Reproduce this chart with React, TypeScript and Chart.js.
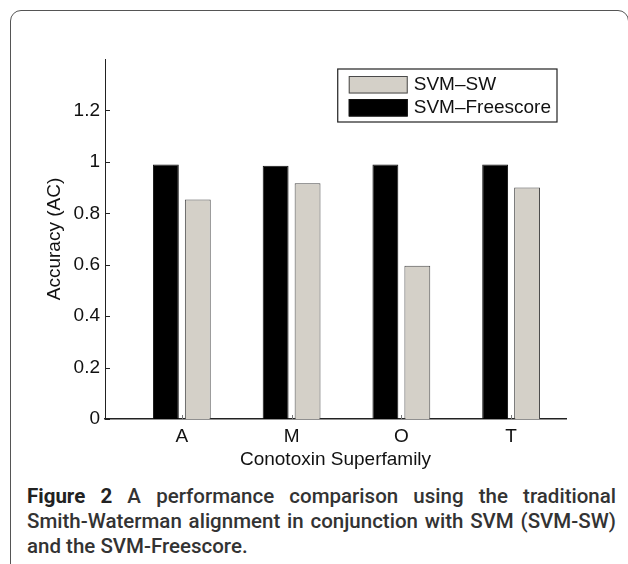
import React, { useEffect, useRef } from "react";
import { Chart, registerables } from "chart.js";

Chart.register(...registerables);

// ---- data ----
const categories = ["A", "M", "O", "T"];
const categoryPositions = [1, 2, 3, 4];
const svmFreescore = [0.99, 0.985, 0.99, 0.99];
const svmSW = [0.854, 0.917, 0.596, 0.9];
const yTickValues = [0, 0.2, 0.4, 0.6, 0.8, 1, 1.2];
const yTickLabels = ["0", "0.2", "0.4", "0.6", "0.8", "1", "1.2"];
const seriesNames = ["SVM\u2013Freescore", "SVM\u2013SW"];
const legendOrder = [1, 0];
const xTitle = "Conotoxin Superfamily";
const yTitle = "Accuracy (AC)";
const captionLines = [
  ["Figure 2", " A performance comparison using the traditional"],
  ["", "Smith-Waterman alignment in conjunction with SVM (SVM-SW)"],
  ["", "and the SVM-Freescore."],
];

const FONT = "'Liberation Sans', Arial, Helvetica, sans-serif";
const FS = 19;

const innerTicks = {
  id: "innerTicks",
  afterDraw(chart: any) {
    const { ctx, chartArea } = chart;
    const y = chart.scales.y;
    const x = chart.scales.x;
    ctx.save();
    ctx.strokeStyle = "#222";
    ctx.lineWidth = 1;
    y.ticks.forEach((t: any) => {
      const py = Math.round(y.getPixelForValue(t.value)) + 0.5;
      ctx.beginPath();
      ctx.moveTo(chartArea.left, py);
      ctx.lineTo(chartArea.left + 5, py);
      ctx.stroke();
    });
    ctx.strokeStyle = "#777";
    x.ticks.forEach((t: any) => {
      const px = Math.round(x.getPixelForValue(t.value)) + 0.5;
      ctx.beginPath();
      ctx.moveTo(px, chartArea.bottom);
      ctx.lineTo(px, chartArea.bottom - 4);
      ctx.stroke();
    });
    ctx.restore();
  },
};

const boxLegend = {
  id: "boxLegend",
  afterDraw(chart: any) {
    const { ctx, chartArea } = chart;
    ctx.save();
    ctx.font = `${FS}px ${FONT}`;
    const widths = legendOrder.map((i) => ctx.measureText(chart.data.datasets[i].label).width);
    const textW = Math.max(...widths);
    const swW = 59;
    const padL = 11;
    const gap = 6;
    const padR = 6;
    const boxW = padL + swW + gap + textW + padR;
    const boxH = 53;
    const right = chartArea.right - 9;
    const left = right - boxW;
    const top = chartArea.top + 10;
    ctx.fillStyle = "#fff";
    ctx.fillRect(left, top, boxW, boxH);
    ctx.strokeStyle = "#222";
    ctx.lineWidth = 1.2;
    ctx.strokeRect(left, top, boxW, boxH);
    legendOrder.forEach((di, row) => {
      const ds = chart.data.datasets[di];
      const sy = top + 7 + row * 23;
      const sh = 17.5;
      ctx.fillStyle = ds.backgroundColor;
      ctx.fillRect(left + padL, sy, swW, sh);
      ctx.strokeStyle = ds.borderColor;
      ctx.lineWidth = 1;
      ctx.strokeRect(left + padL + 0.5, sy + 0.5, swW - 1, sh - 1);
      ctx.fillStyle = "#111";
      ctx.textBaseline = "middle";
      ctx.textAlign = "left";
      ctx.fillText(ds.label, left + padL + swW + gap, sy + sh / 2 + 0.5);
    });
    ctx.restore();
  },
};

export default function App() {
  const canvasRef = useRef<HTMLCanvasElement | null>(null);

  useEffect(() => {
    if (!canvasRef.current) return;
    Chart.defaults.font.family = FONT;
    Chart.defaults.font.size = FS;
    Chart.defaults.color = "#111";
    const chart = new Chart(canvasRef.current, {
      type: "bar",
      data: {
        datasets: [
          {
            label: seriesNames[0],
            data: categoryPositions.map((x, i) => ({ x, y: svmFreescore[i] })),
            backgroundColor: "#000000",
            borderColor: "#111111",
            borderWidth: 1,
          },
          {
            label: seriesNames[1],
            data: categoryPositions.map((x, i) => ({ x, y: svmSW[i] })),
            backgroundColor: "#d4d0c8",
            borderColor: "#4a4a4a",
            borderWidth: 1,
          },
        ],
      },
      options: {
        animation: false,
        responsive: false,
        devicePixelRatio: 1,
        categoryPercentage: 0.582,
        barPercentage: 0.81,
        layout: { padding: { top: 59, right: 62, left: 0, bottom: 0 } },
        plugins: { legend: { display: false }, tooltip: { enabled: false } },
        scales: {
          x: {
            type: "linear",
            offset: false,
            min: 0.3,
            max: 4.5,
            grid: { display: false, drawTicks: false },
            border: { display: true, color: "#222", width: 1.5 },
            afterBuildTicks: (s: any) => {
              s.ticks = categoryPositions.map((v) => ({ value: v }));
            },
            afterFit: (s: any) => {
              s.height = 61;
            },
            ticks: {
              padding: 6,
              autoSkip: false,
              maxRotation: 0,
              callback: (v: any) => categories[categoryPositions.indexOf(Number(v))] ?? "",
            },
            title: { display: true, text: xTitle, padding: { top: 0, bottom: 9 } },
          },
          y: {
            type: "linear",
            min: 0,
            max: 1.4,
            grid: { display: false, drawTicks: false },
            border: { display: true, color: "#222", width: 1 },
            afterBuildTicks: (s: any) => {
              s.ticks = yTickValues.map((v) => ({ value: v }));
            },
            afterFit: (s: any) => {
              s.width = 105;
            },
            ticks: {
              padding: 5,
              callback: (v: any) => yTickLabels[yTickValues.indexOf(Number(v))] ?? "",
            },
            title: { display: true, text: yTitle, padding: { top: 43, bottom: 0 } },
          },
        },
      },
      plugins: [innerTicks, boxLegend],
    } as any);
    return () => chart.destroy();
  }, []);

  return (
    <div
      style={{
        position: "fixed",
        left: 0,
        top: 0,
        width: 628,
        height: 564,
        overflow: "hidden",
        background: "#fff",
      }}
    >
      <div
        style={{
          position: "absolute",
          left: 10,
          top: 10,
          width: 619,
          height: 640,
          boxSizing: "border-box",
          border: "1.6px solid #555",
          borderRadius: 11,
        }}
      />
      <canvas
        ref={canvasRef}
        width={628}
        height={480}
        style={{ position: "absolute", left: 0, top: 0, width: 628, height: 480 }}
      />
      <div
        style={{
          position: "absolute",
          left: 27,
          top: 484,
          width: 589,
          fontFamily: "Roboto, Lato, sans-serif",
          fontSize: 20.5,
          lineHeight: "25px",
          fontWeight: 500,
          color: "#333",
        }}
      >
        {captionLines.map((ln, i) => (
          <div
            key={i}
            style={{
              textAlign: i < captionLines.length - 1 ? "justify" : "left",
              textAlignLast: i < captionLines.length - 1 ? "justify" : "left",
              whiteSpace: "nowrap",
            }}
          >
            {ln[0] ? <span style={{ fontWeight: 700, color: "#222" }}>{ln[0]}</span> : null}
            {ln[1]}
          </div>
        ))}
      </div>
    </div>
  );
}
